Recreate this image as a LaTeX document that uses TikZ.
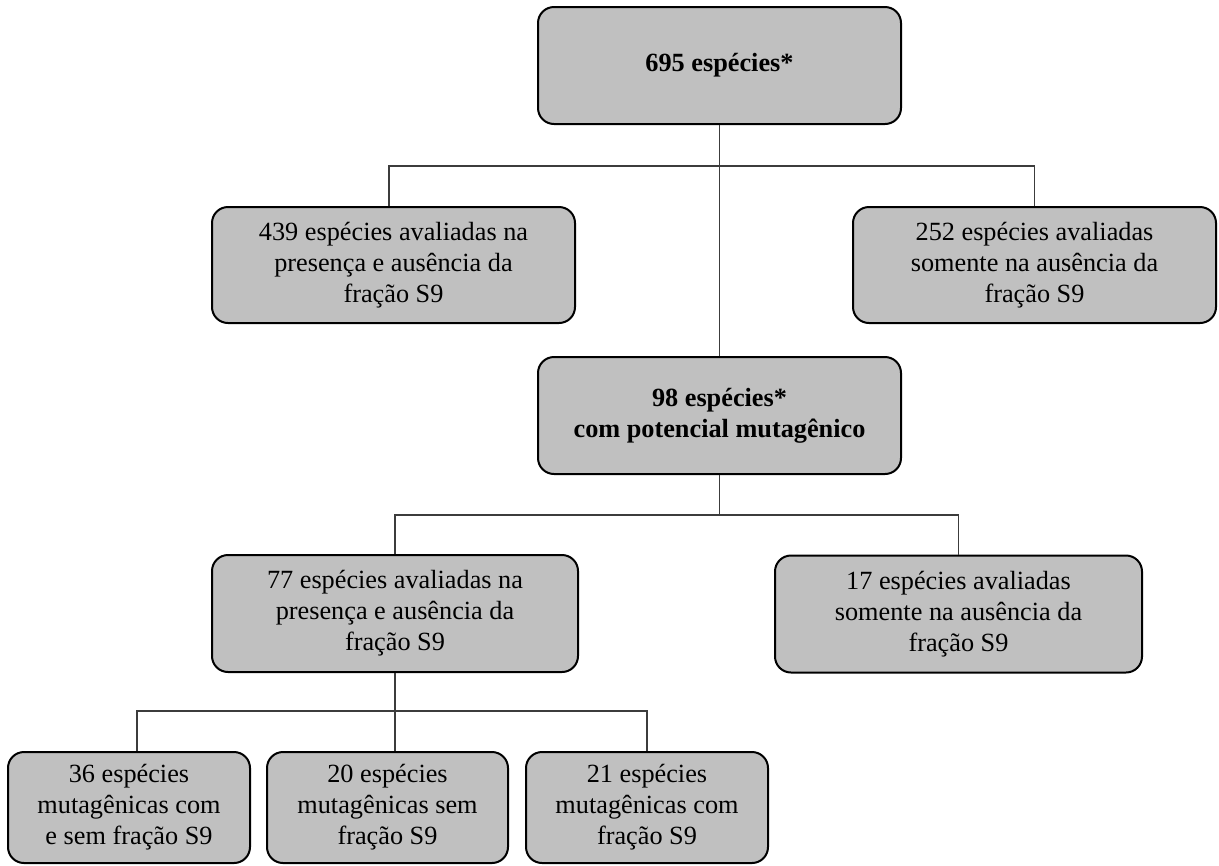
\documentclass[tikz,border=0pt]{standalone}
\usepackage{fontspec}
\setmainfont{Liberation Serif}
\definecolor{boxgray}{RGB}{192,192,192}
\definecolor{linegray}{RGB}{60,60,60}
\begin{document}
\begin{tikzpicture}[x=0.75pt,y=-0.75pt,
  box/.style={draw=black, line width=1.5pt, fill=boxgray, rounded corners=12pt,
    align=center, inner sep=0pt, font=\fontsize{19.7}{23.3}\selectfont},
  conn/.style={draw=linegray, line width=0.8pt}]
\useasboundingbox (0,0) rectangle (1219,865);
% nodes
\node[box, minimum width=363*0.75pt, minimum height=117*0.75pt] (top) at (719.5,65.5) {\bfseries 695 espécies*};
\node[box, minimum width=363*0.75pt, minimum height=116*0.75pt] (n439) at (393.5,265) {439 espécies avaliadas na\\presença e ausência da\\fração S9};
\node[box, minimum width=363*0.75pt, minimum height=116*0.75pt] (n252) at (1034.5,265) {252 espécies avaliadas\\somente na ausência da\\fração S9};
\node[box, minimum width=363*0.75pt, minimum height=117*0.75pt] (mid) at (719.5,415.5) {\bfseries 98 espécies*\\\bfseries com potencial mutagênico};
\node[box, minimum width=366*0.75pt, minimum height=117*0.75pt] (n77) at (395,613.5) {77 espécies avaliadas na\\presença e ausência da\\fração S9};
\node[box, minimum width=367*0.75pt, minimum height=117*0.75pt] (n17) at (958.5,614) {17 espécies avaliadas\\somente na ausência da\\fração S9};
\node[box, minimum width=242*0.75pt, minimum height=111*0.75pt] (b1) at (129,807.5) {36 espécies\\mutagênicas com\\e sem fração S9};
\node[box, minimum width=241*0.75pt, minimum height=111*0.75pt] (b2) at (387.5,807.5) {20 espécies\\mutagênicas sem\\fração S9};
\node[box, minimum width=242*0.75pt, minimum height=111*0.75pt] (b3) at (647,807.5) {21 espécies\\mutagênicas com\\fração S9};
% junctions
\coordinate (h1) at (719.5,166);
\coordinate (h2) at (719.5,515);
\coordinate (h3) at (395,711);
% connectors
\draw[conn] (top.south) -- (mid.north);
\draw[conn] ([xshift=-3.4pt]n439.north) |- (h1) -| (n252.north);
\draw[conn] (mid.south) -- (h2);
\draw[conn] (n77.north) |- (h2) -| (n17.north);
\draw[conn] (n77.south) -- (h3);
\draw[conn] ([xshift=6pt]b1.north) |- (h3) -| (b3.north);
\draw[conn] (h3) -- (h3 |- b2.north);
\end{tikzpicture}
\end{document}
